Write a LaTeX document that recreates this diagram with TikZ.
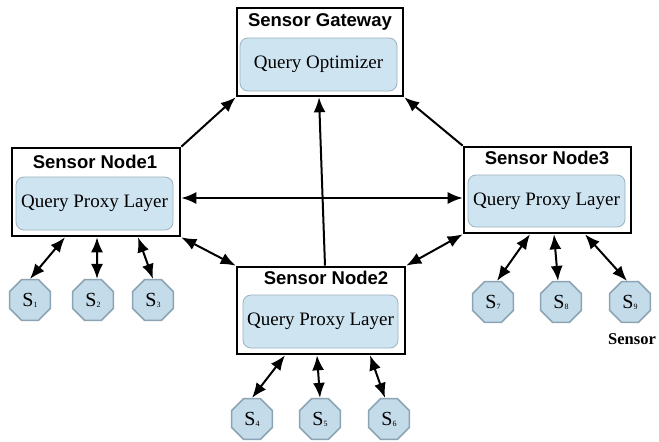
\documentclass[tikz,border=0pt]{standalone}
\usepackage{fontspec}
\setmainfont{Liberation Serif}
\setsansfont{Liberation Sans}
\usepackage{tikz}
\usetikzlibrary{positioning}
\usetikzlibrary{arrows.meta,shapes.geometric}

\definecolor{panelblue}{HTML}{CFE4F1}
\definecolor{panelline}{HTML}{9CB2C0}
\definecolor{sensblue}{HTML}{C4DBE9}
\definecolor{sensline}{HTML}{8CA3B3}

\newcommand{\sidx}[1]{\raisebox{-1pt}{\fontsize{8}{8}\selectfont #1}}

\begin{document}
\begin{tikzpicture}[x=1pt, y=-1pt,
  outerbox/.style={draw=black, line width=2.6pt, fill=white, inner sep=0pt},
  innerbox/.style={draw=panelline, line width=0.8pt, fill=panelblue, rounded corners=8pt,
                   inner sep=0pt, font=\fontsize{19}{22}\selectfont},
  titletext/.style={font=\sffamily\bfseries\fontsize{18.5}{22}\selectfont, inner sep=0pt},
  sensor/.style={regular polygon, regular polygon sides=8, minimum size=44pt, inner sep=0pt,
                 draw=sensline, line width=1.5pt, fill=sensblue, font=\fontsize{20}{22}\selectfont},
  link/.style={line width=2pt, -{Latex[length=15pt,width=12pt]}},
  duplex/.style={line width=2pt, {Latex[length=15pt,width=12pt]}-{Latex[length=15pt,width=12pt]}}]

  \useasboundingbox (0,0) rectangle (659,442);

  % gateway
  \node[outerbox, minimum width=166pt, minimum height=88pt] (gw) at (320,52) {};
  \node[titletext] (gwt) at (320,22) {Sensor Gateway};
  \node[innerbox, minimum width=157pt, minimum height=53pt] (gwi) at (318.5,64.5) {Query Optimizer};

  % sensor nodes
  \node[outerbox, minimum width=168pt, minimum height=88pt] (n1) at (96,192) {};
  \node[titletext] (n1t) at (95,162) {Sensor Node1};
  \node[innerbox, minimum width=157pt, minimum height=53pt] (n1i) at (94.5,203.5) {Query Proxy Layer};

  \node[outerbox, minimum width=168pt, minimum height=87pt] (n2) at (321,310.5) {};
  \node[titletext] (n2t) at (326,278) {Sensor Node2};
  \node[innerbox, minimum width=155pt, minimum height=53pt] (n2i) at (320.5,321.5) {Query Proxy Layer};

  \node[outerbox, minimum width=167pt, minimum height=86pt] (n3) at (547.5,190) {};
  \node[titletext] (n3t) at (547,158) {Sensor Node3};
  \node[innerbox, minimum width=157pt, minimum height=52pt] (n3i) at (546.5,201) {Query Proxy Layer};

  % sensors
  \node[sensor] (s1) at (30,300) {S\sidx{1}};
  \node[sensor] (s2) at (93,300) {S\sidx{2}};
  \node[sensor] (s3) at (153,300) {S\sidx{3}};
  \node[sensor] (s4) at (252,419) {S\sidx{4}};
  \node[sensor] (s5) at (320,419) {S\sidx{5}};
  \node[sensor] (s6) at (389,419) {S\sidx{6}};
  \node[sensor] (s7) at (493,302) {S\sidx{7}};
  \node[sensor] (s8) at (561,302) {S\sidx{8}};
  \node[sensor] (s9) at (630,302) {S\sidx{9}};
  \node[font=\bfseries\fontsize{16.5}{20}\selectfont, inner sep=0pt] (slabel) at (632,339) {Sensor};

  % links to the gateway
  \draw[link] (n1.north east) -- (gw.south west);
  \draw[link] ([xshift=4pt]n2.north) -- ([xshift=-1pt]gw.south);
  \draw[link] (n3.north west) -- (gw.south east);

  % links between nodes
  \draw[duplex] ([yshift=-6pt]n1.east) -- ([yshift=-8pt]n3.west);
  \draw[duplex] (n1.south east) -- (n2.north west);
  \draw[duplex] (n3.south west) -- (n2.north east);

  % links to sensors
  \draw[duplex] ([xshift=-31pt]n1.south) -- (s1.north);
  \draw[duplex] ([xshift=1pt]n1.south) -- ([xshift=4pt]s2.north);
  \draw[duplex] ([xshift=42pt]n1.south) -- (s3.north);
  \draw[duplex] ([xshift=-36pt]n2.south) -- (s4.north);
  \draw[duplex] ([xshift=-4pt]n2.south) -- (s5.north);
  \draw[duplex] ([xshift=49pt]n2.south) -- ([xshift=-4pt]s6.north);
  \draw[duplex] ([xshift=-17.5pt]n3.south) -- ([xshift=4pt]s7.north);
  \draw[duplex] ([xshift=6.5pt]n3.south) -- ([xshift=-3pt]s8.north);
  \draw[duplex] ([xshift=37.5pt]n3.south) -- ([xshift=-3pt]s9.north);

\end{tikzpicture}
\end{document}
